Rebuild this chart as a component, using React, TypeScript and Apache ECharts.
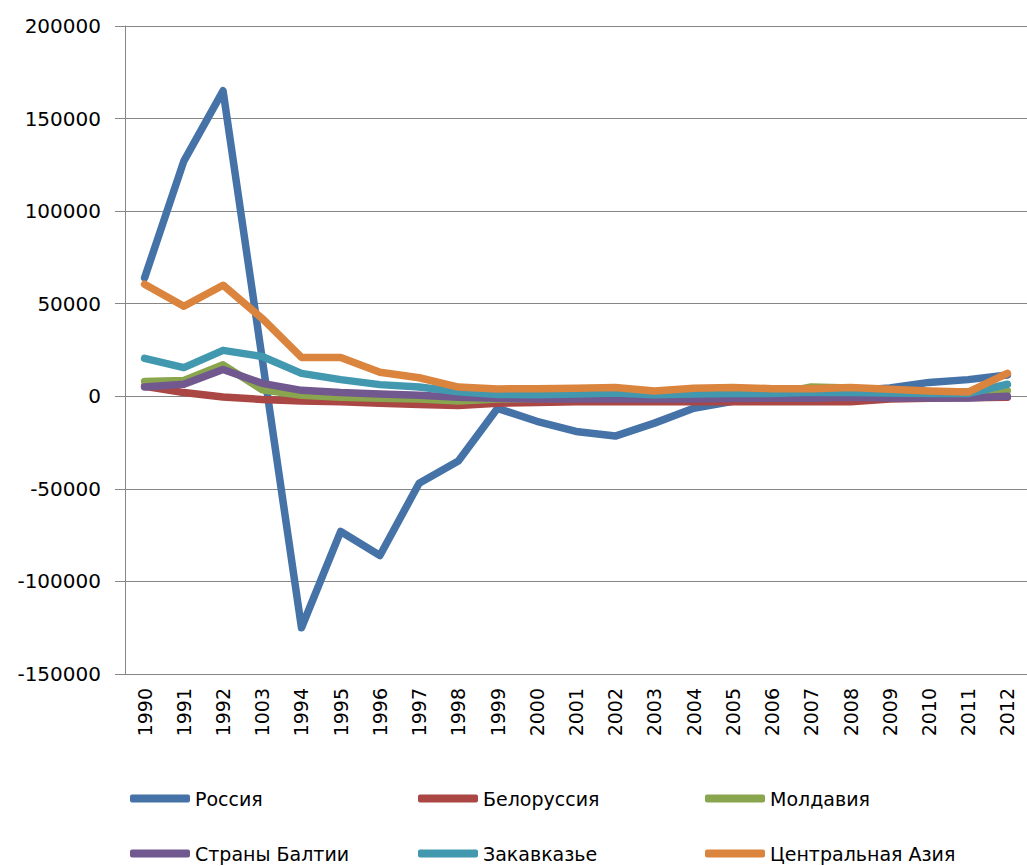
import React, { useEffect, useRef } from "react";
import * as echarts from "echarts";

const years = ["1990","1991","1992","1003","1994","1995","1996","1997","1998","1999","2000","2001","2002","2003","2004","2005","2006","2007","2008","2009","2010","2011","2012"];
const seriesNames = ["Россия","Белоруссия","Молдавия","Страны Балтии","Закавказье","Центральная Азия"];
const russia = [64000,127000,165000,20000,-125000,-73000,-86000,-47000,-35000,-6500,-13500,-19000,-21500,-14500,-6500,-2700,-500,1500,3000,4500,7500,9000,11500];
const belarus = [5400,2000,-400,-1700,-2500,-3000,-3800,-4400,-5000,-3800,-3400,-3000,-3000,-3000,-3000,-3000,-3000,-3000,-3000,-1500,-1000,-800,-500];
const moldova = [8000,8500,17000,3500,500,-500,-1000,-1500,-2500,-1500,-1200,-1000,-1000,-1000,-800,-500,1000,5000,4500,2500,2500,2500,3000];
const baltic = [5000,6500,14500,7000,3200,2000,1300,500,-500,-1000,-1500,-1500,-1500,-1500,-1500,-1200,-1000,-1000,-500,-900,-900,-900,0];
const transcaucasia = [20500,15500,24800,21500,12400,9000,6300,5000,2500,1000,800,1200,1800,800,1200,1500,1500,2200,2000,1800,1500,1500,6500];
const centralAsia = [60500,48600,60000,42000,21000,21000,13000,10000,5000,4000,4100,4300,4800,2900,4300,4800,4100,4100,4700,3800,2900,2300,12400];
const colors = ["#4572A7","#AA4643","#89A54E","#71588F","#4198AF","#DB843D"];
const legendLeft = [130, 418, 705, 130, 418, 705];
const legendTop = [789, 789, 789, 844, 844, 844];

const FONT = "DejaVu Sans, Verdana, sans-serif";

export default function App() {
  const ref = useRef<HTMLDivElement>(null);
  useEffect(() => {
    if (!ref.current) return;
    const chart = echarts.init(ref.current, undefined, { renderer: "svg" });
    const allData = [russia, belarus, moldova, baltic, transcaucasia, centralAsia];
    chart.setOption({
      animation: false,
      color: colors,
      textStyle: { fontFamily: FONT },
      grid: { left: 125, top: 26, bottom: 192, right: -18, containLabel: false },
      legend: seriesNames.map((n, i) => ({
        data: [n],
        left: legendLeft[i],
        top: legendTop[i],
        icon: "roundRect",
        itemWidth: 60,
        itemHeight: 8,
        padding: 0,
        textStyle: { fontFamily: FONT, fontSize: 19, color: "#000" },
      })),
      xAxis: {
        type: "category",
        data: years,
        boundaryGap: true,
        axisLine: { show: true, lineStyle: { color: "#868686", width: 1 } },
        axisTick: { show: false },
        axisLabel: { rotate: 90, margin: 14, fontSize: 19, color: "#000", fontFamily: FONT, interval: 0 },
        splitLine: { show: false },
      },
      yAxis: {
        type: "value",
        min: -150000,
        max: 200000,
        interval: 50000,
        axisLine: { show: true, lineStyle: { color: "#868686", width: 1 } },
        axisTick: { show: true, length: 10, lineStyle: { color: "#868686" } },
        axisLabel: { margin: 24, fontSize: 20, color: "#000", fontFamily: FONT, formatter: (v: number) => String(v) },
        splitLine: { show: true, lineStyle: { color: "#868686", width: 1 } },
      },
      series: seriesNames.map((n, i) => ({
        name: n,
        type: "line",
        data: allData[i],
        showSymbol: false,
        symbol: "none",
        lineStyle: { width: 7.5, color: colors[i], cap: "round", join: "round" },
        itemStyle: { color: colors[i] },
      })),
    });
    return () => chart.dispose();
  }, []);
  return <div ref={ref} style={{ position: "absolute", left: 0, top: 0, width: 1027, height: 866 }} />;
}
